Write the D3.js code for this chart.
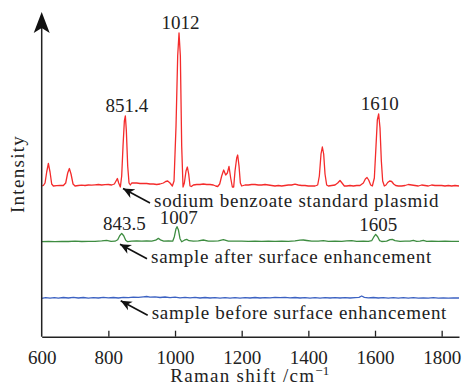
<!DOCTYPE html>
<html>
<head>
<meta charset="utf-8">
<script src="https://cdn.jsdelivr.net/npm/d3@7"></script>
<style>
  html, body { margin: 0; padding: 0; background: #fff; }
</style>
</head>
<body>
<svg id="chart"></svg>
<script>
// Raman shift (cm-1) and intensity above each curve's own baseline
const redSpectrum = [
  [600, 0], [605, 0.5], [610, 3], [615, 14], [620, 22.5], [625, 14], [630, 2], [635, 0], [645, 0.3], [655, 0.5],
  [665, 0.5], [672, 3], [678, 13], [683, 17.5], [688, 12], [694, 2], [700, 0], [710, 0.5], [720, 0.8], [730, 0.5],
  [740, 1], [750, 0.8], [760, 1.2], [770, 1.5], [780, 1], [790, 1.3], [800, 1.5], [810, 1], [818, 2], [823, 5],
  [827, 7.5], [831, 3], [836, -1], [840, 10], [844, 40], [848, 65], [851, 70], [854, 55], [858, 20], [862, 3],
  [866, 1], [870, 3], [875, 3], [885, 3], [895, 2.5], [905, 2.5], [915, 2.5], [925, 2], [935, 2], [945, 1.5],
  [955, 2], [965, 3], [972, 4.5], [978, 5], [985, 3], [992, 0], [997, 5], [1003, 60], [1008, 130], [1012, 153],
  [1016, 130], [1020, 40], [1024, -1], [1028, 3], [1033, 15], [1037, 19], [1041, 12], [1045, 0], [1049, -0.5], [1055, 1],
  [1065, 1.5], [1075, 1.5], [1085, 2], [1095, 1.5], [1105, 1.5], [1115, 1], [1122, 0], [1128, -0.5], [1134, 2], [1140, 10],
  [1146, 16], [1152, 11], [1157, 13], [1162, 19.5], [1167, 8], [1172, -1], [1176, -1], [1180, 15], [1185, 28], [1188, 31],
  [1192, 20], [1196, 3], [1200, 0], [1210, 1], [1220, 1], [1230, 1.5], [1240, 1.5], [1250, 1], [1260, 1], [1270, 1.5],
  [1280, 1], [1290, 0.5], [1300, 0], [1310, 0.5], [1320, 0], [1330, 0.5], [1340, 1], [1350, 1], [1360, 1.8], [1370, 1],
  [1380, 0.5], [1390, 0.5], [1400, 0], [1410, 0], [1420, 0], [1428, 1], [1433, 10], [1438, 32], [1442, 39], [1446, 32],
  [1450, 12], [1455, 1], [1460, 0], [1470, 0.5], [1480, 1], [1488, 3], [1495, 5.5], [1501, 3], [1508, 0], [1515, 0],
  [1525, 0.5], [1535, 0], [1545, 0.5], [1555, 0.5], [1565, 3], [1571, 7], [1576, 8.5], [1581, 6], [1587, 1], [1592, 0],
  [1598, 8], [1603, 40], [1607, 66], [1611, 72], [1615, 58], [1619, 25], [1623, 5], [1628, 0], [1633, 1], [1638, 3.5],
  [1644, 5], [1650, 4.5], [1656, 2], [1662, 0.5], [1670, 0], [1680, 0], [1690, 0.5], [1700, 1.5], [1710, 1], [1720, 0.5],
  [1730, 0], [1740, 1], [1750, 0.5], [1760, 0], [1770, 1], [1780, 0.5], [1790, 0.5], [1800, 0.5], [1810, 0], [1820, 0.5],
  [1830, 0], [1840, 0.5], [1852, 0]
];

const greenSpectrum = [
  [600, 0], [620, 0.3], [640, 0], [660, 0.4], [680, 0.2], [700, 0.5], [720, 0.2], [740, 0.4], [760, 0.3], [780, 0.8],
  [795, 1.3], [808, 0.4], [820, 0.5], [828, 2], [834, 6], [840, 8.3], [846, 6], [852, 1.5], [858, 0], [870, 0.5],
  [885, 0.8], [900, 0.5], [915, 0.8], [930, 0.6], [942, 1.5], [950, 3.3], [958, 1.5], [966, 0.5], [980, 0.8], [993, 0.5],
  [998, 5], [1003, 13], [1006, 15], [1010, 12], [1015, 3], [1020, 0], [1028, 1.5], [1035, 2.3], [1042, 1], [1055, 0.5],
  [1070, 0.8], [1085, 1.7], [1100, 0.6], [1115, 0.5], [1130, 0.8], [1145, 2], [1160, 0.6], [1180, 0.5], [1200, 0.6], [1220, 0.3],
  [1240, 0.5], [1260, 0.4], [1280, 0.6], [1300, 0.3], [1320, 0.5], [1340, 0.3], [1360, 0.8], [1375, 1.5], [1385, 1.7], [1395, 1.2],
  [1410, 0.5], [1430, 0.6], [1445, 1], [1460, 0.4], [1480, 0.5], [1500, 0.4], [1515, 0.8], [1530, 1], [1545, 0.4], [1565, 0.5],
  [1580, 0.4], [1590, 1], [1596, 4.5], [1602, 7.3], [1608, 5], [1614, 1], [1620, 0.2], [1635, 0.5], [1645, 2], [1652, 2.3],
  [1660, 1], [1675, 0.4], [1690, 0.6], [1705, 0.5], [1715, 1.3], [1725, 0.4], [1735, 0.6], [1745, 1.3], [1755, 0.4], [1770, 0.5],
  [1790, 0.3], [1810, 0.5], [1830, 0.3], [1852, 0.4]
];

const blueSpectrum = [
  [600, 0], [612, 0.6], [625, 0.1], [638, 0.7], [650, 0.2], [665, 0.8], [680, 0.3], [695, 0.9], [710, 0.3], [725, 0.8],
  [740, 0.2], [755, 0.7], [770, 0.3], [785, 0.9], [800, 0.4], [815, 0.8], [830, 0.3], [845, 0.9], [860, 0.6], [875, 1.2],
  [890, 0.9], [905, 1.5], [915, 1.8], [925, 1.2], [940, 1.4], [955, 0.8], [970, 1.3], [985, 0.7], [1000, 1.1], [1015, 0.5],
  [1030, 1], [1045, 0.4], [1060, 0.9], [1075, 0.3], [1090, 0.8], [1105, 0.3], [1120, 0.7], [1135, 0.2], [1150, 0.7], [1165, 0.2],
  [1180, 0.6], [1195, 0.2], [1210, 0.7], [1225, 0.3], [1240, 0.8], [1255, 0.3], [1270, 0.7], [1285, 0.5], [1300, 1], [1315, 0.6],
  [1330, 0.9], [1345, 0.5], [1360, 0.8], [1375, 0.3], [1390, 0.7], [1405, 0.2], [1420, 0.6], [1435, 0.2], [1450, 0.6], [1465, 0.3],
  [1480, 0.7], [1495, 0.3], [1510, 0.6], [1525, 0.3], [1540, 0.7], [1552, 1], [1560, 2.3], [1568, 1], [1580, 0.4], [1595, 0.8],
  [1610, 0.3], [1625, 0.7], [1640, 0.2], [1655, 0.6], [1670, 0.2], [1685, 0.6], [1700, 0.2], [1715, 0.6], [1730, 0.2], [1745, 0.5],
  [1760, 0.2], [1775, 0.6], [1790, 0.2], [1805, 0.5], [1820, 0.2], [1835, 0.5], [1852, 0.3]
];

// vertical offset of each curve, in intensity units
const seriesNames = ["sodium benzoate standard plasmid", "sample after surface enhancement", "sample before surface enhancement"];
const seriesOffsets = [150.7, 95, 38.4];
const seriesColors = ["#f42b2b", "#3d8c40", "#3c62c2"];

// labelled peaks: [series index, position]
const peakLabels = [[0, "851.4"], [0, "1012"], [0, "1610"], [1, "843.5"], [1, "1007"], [1, "1605"]];
// where each arrow touches its curve
const arrowTips = [844, 835, 837];

const xTicks = [600, 800, 1000, 1200, 1400, 1600, 1800];

const FONT = "'Liberation Serif', 'Times New Roman', Tinos, 'DejaVu Serif', serif";
const FS = 19;

const W = 464, H = 385;
const margin = { top: 12, right: 5, bottom: 48.3, left: 41.7 };
const width = W - margin.left - margin.right;
const height = H - margin.top - margin.bottom;

const x = d3.scaleLinear().domain([600, 1852]).range([0, width]);
const y = d3.scaleLinear().domain([0, height]).range([height, 0]);

const svg = d3.select("#chart").attr("width", W).attr("height", H);

const defs = svg.append("defs");
defs.append("marker")
    .attr("id", "arrowhead")
    .attr("viewBox", "0 0 10 10")
    .attr("refX", 10).attr("refY", 5)
    .attr("markerWidth", 11).attr("markerHeight", 11)
    .attr("markerUnits", "userSpaceOnUse")
    .attr("orient", "auto")
    .append("path")
    .attr("d", "M0,0.5 L10,5 L0,9.5 L3,5 Z")
    .attr("fill", "#111");

const g = svg.append("g").attr("transform", `translate(${margin.left},${margin.top})`);

function styleText(sel, spacing = 0) {
    return sel.style("font-family", FONT)
        .style("font-size", FS + "px")
        .style("letter-spacing", spacing + "px")
        .style("fill", "#222");
}

const spectra = [redSpectrum, greenSpectrum, blueSpectrum];
const line = d3.line().x(d => x(d[0])).y(d => y(d[1]));

spectra.forEach((s, i) => {
    g.append("path")
        .attr("fill", "none")
        .attr("stroke", seriesColors[i])
        .attr("stroke-width", 1.3)
        .attr("stroke-linejoin", "round")
        .attr("d", line(s.map(d => [d[0], d[1] + seriesOffsets[i]])));
});

// peak labels above the local maximum
peakLabels.forEach(([si, label]) => {
    const pos = +label;
    const near = spectra[si].filter(d => Math.abs(d[0] - pos) < 8);
    const top = d3.max(near, d => d[1]) + seriesOffsets[si];
    styleText(g.append("text"))
        .attr("x", x(pos) + 1.5)
        .attr("y", y(top) - (si === 0 ? 4.5 : 3))
        .attr("text-anchor", "middle")
        .text(label);
});

// arrows with series names
arrowTips.forEach((pos, i) => {
    const tx = x(pos), ty = y(seriesOffsets[i]) + 2.5;
    g.append("line")
        .attr("x1", tx + 27).attr("y1", ty + 14.5)
        .attr("x2", tx).attr("y2", ty)
        .attr("stroke", "#111")
        .attr("stroke-width", 1.6)
        .attr("marker-end", "url(#arrowhead)");
    styleText(g.append("text"), 0.72)
        .attr("x", tx + 31)
        .attr("y", ty + 18.5)
        .text(seriesNames[i]);
});

// x axis
const xAxis = g.append("g")
    .attr("transform", `translate(0,${height})`)
    .call(d3.axisBottom(x).tickValues(xTicks).tickFormat(d3.format("d"))
        .tickSizeInner(-6).tickSizeOuter(0).tickPadding(14));
xAxis.select(".domain").attr("stroke", "#222").attr("stroke-width", 1.5);
xAxis.selectAll(".tick line").attr("stroke", "#222").attr("stroke-width", 1.3);
xAxis.selectAll(".tick").filter(d => d === 600).select("line").remove();
styleText(xAxis.selectAll(".tick text"));

// y axis with arrow on top
g.append("line")
    .attr("x1", 0).attr("y1", height)
    .attr("x2", 0).attr("y2", 12)
    .attr("stroke", "#222").attr("stroke-width", 1.5);
g.append("path")
    .attr("d", "M0,0 L8,21 L0,16 L-8,21 Z")
    .attr("fill", "#111");

// axis titles
const xTitle = styleText(g.append("text"), 1.3)
    .attr("x", 208)
    .attr("y", height + 45.5)
    .attr("text-anchor", "middle");
xTitle.append("tspan").text("Raman shift /cm");
xTitle.append("tspan").attr("dy", -7).style("font-size", "13px").style("letter-spacing", "0px").text("−1");

styleText(g.append("text"), 1.3)
    .attr("transform", `translate(${-18},${162}) rotate(-90)`)
    .attr("text-anchor", "middle")
    .text("Intensity");
</script>
</body>
</html>
